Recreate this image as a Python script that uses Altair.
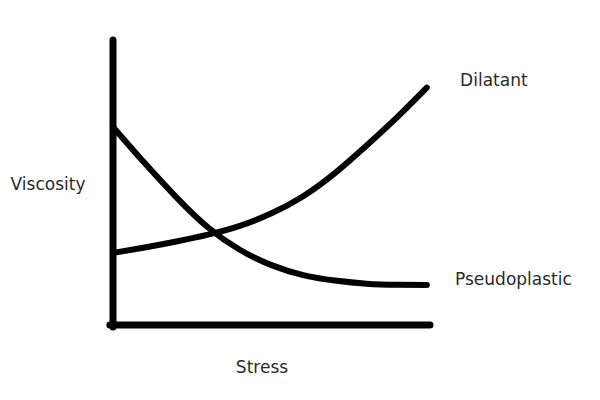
import altair as alt
import pandas as pd

# Stress positions (arbitrary units 0..10)
stress = [0, 1, 2, 3, 4, 5, 6, 7, 8, 9, 9.9]
dilatant = [2.53, 2.72, 2.93, 3.17, 3.48, 3.92, 4.52, 5.33, 6.30, 7.33, 8.33]
pseudoplastic = [6.95, 5.68, 4.48, 3.42, 2.64, 2.10, 1.75, 1.56, 1.45, 1.41, 1.40]

label_names = ["Dilatant", "Pseudoplastic"]
label_x = [10.95, 10.79]
label_y = [8.55, 1.58]

axis_titles = ["Viscosity", "Stress"]
axis_title_x = [-2.05, 4.7]
axis_title_y = [4.91, -1.51]

rows = []
for s, d, p in zip(stress, dilatant, pseudoplastic):
    rows.append({"stress": s, "viscosity": d, "fluid": "Dilatant"})
    rows.append({"stress": s, "viscosity": p, "fluid": "Pseudoplastic"})
curves = pd.DataFrame(rows)

axes_df = pd.DataFrame({
    "x": [0.0, -0.1],
    "x2": [0.0, 10.0],
    "y": [-0.07, 0.0],
    "y2": [10.0, 0.0],
})

labels_df = pd.DataFrame({"name": label_names, "x": label_x, "y": label_y})
titles_df = pd.DataFrame({"name": axis_titles, "x": axis_title_x, "y": axis_title_y})

xs = alt.Scale(domain=[-3.312, 15.11], nice=False, zero=False)
ys = alt.Scale(domain=[-2.351, 11.123], nice=False, zero=False)

lines = alt.Chart(curves).mark_line(
    color="black", strokeWidth=6, interpolate="natural", strokeCap="round"
).encode(
    x=alt.X("stress:Q", scale=xs, axis=None),
    y=alt.Y("viscosity:Q", scale=ys, axis=None),
    detail="fluid:N",
)

axes = alt.Chart(axes_df).mark_rule(color="black", strokeWidth=7, strokeCap="round").encode(
    x=alt.X("x:Q", scale=xs, axis=None),
    x2="x2:Q",
    y=alt.Y("y:Q", scale=ys, axis=None),
    y2="y2:Q",
)

labels = alt.Chart(labels_df).mark_text(
    align="left", baseline="middle", fontSize=17, font="DejaVu Sans", color="#2a2a2a"
).encode(
    x=alt.X("x:Q", scale=xs, axis=None),
    y=alt.Y("y:Q", scale=ys, axis=None),
    text="name:N",
)

titles = alt.Chart(titles_df).mark_text(
    align="center", baseline="middle", fontSize=17, font="DejaVu Sans", color="#2a2a2a"
).encode(
    x=alt.X("x:Q", scale=xs, axis=None),
    y=alt.Y("y:Q", scale=ys, axis=None),
    text="name:N",
)

chart = alt.layer(axes, lines, labels, titles).properties(
    width=584, height=384,
    autosize=alt.AutoSizeParams(type="none"),
    padding=0,
).configure_view(stroke=None)

chart.save("out.html", embed_options={"renderer": "svg", "actions": False})
